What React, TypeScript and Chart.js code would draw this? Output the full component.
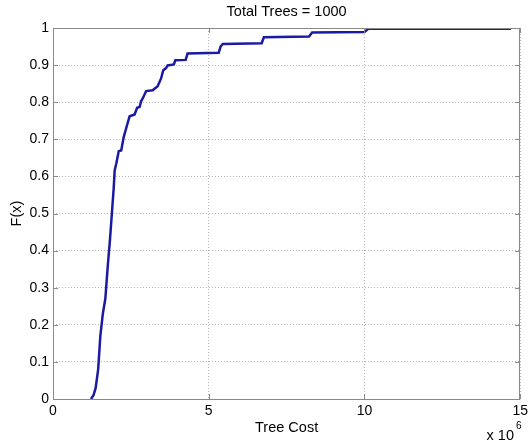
import React, { useEffect, useRef } from "react";
import { Chart, registerables } from "chart.js";

Chart.register(...registerables);

const chartTitle = "Total Trees = 1000";
const xAxisLabel = "Tree Cost";
const yAxisLabel = "F(x)";

// Tree cost in units of 10^6
const costValues = [
  1.22, 1.3, 1.37, 1.45, 1.52, 1.6, 1.68, 1.76, 1.83, 1.89, 1.95, 1.98, 2.03, 2.11, 2.19, 2.27,
  2.39, 2.46, 2.62, 2.7, 2.78, 2.83, 2.88, 2.99, 3.2, 3.36, 3.47, 3.54, 3.63, 3.68, 3.88, 3.93,
  4.26, 4.32, 5.32, 5.38, 5.45, 6.7, 6.77, 8.22, 8.32, 10.0, 10.12, 14.7,
];
const cdfValues = [
  0, 0.01, 0.03, 0.08, 0.17, 0.23, 0.27, 0.36, 0.43, 0.5, 0.57, 0.616, 0.634, 0.668, 0.67, 0.706,
  0.742, 0.762, 0.767, 0.785, 0.787, 0.803, 0.81, 0.83, 0.832, 0.843, 0.864, 0.886, 0.892, 0.899,
  0.902, 0.913, 0.914, 0.931, 0.933, 0.95, 0.957, 0.959, 0.975, 0.977, 0.988, 0.989, 0.998, 0.998,
];

const FONT = "'Liberation Sans', Arial, sans-serif";

const decorPlugin = {
  id: "decor",
  afterDraw(chart: any) {
    const { ctx, chartArea } = chart;
    const { left, right, top, bottom } = chartArea;
    const xs = chart.scales.x;
    const ys = chart.scales.y;
    ctx.save();
    ctx.strokeStyle = "#8a8a8a";
    ctx.lineWidth = 1;
    ctx.setLineDash([]);
    ctx.strokeRect(Math.round(left) + 0.5, Math.round(top) + 0.5, Math.round(right - left) - 1, Math.round(bottom - top));
    ctx.beginPath();
    xs.ticks.forEach((t: any) => {
      const px = Math.round(xs.getPixelForValue(t.value)) + 0.5;
      ctx.moveTo(px, bottom);
      ctx.lineTo(px, bottom - 5);
      ctx.moveTo(px, top);
      ctx.lineTo(px, top + 5);
    });
    ys.ticks.forEach((t: any) => {
      const py = Math.round(ys.getPixelForValue(t.value)) + 0.5;
      ctx.moveTo(left, py);
      ctx.lineTo(left + 5, py);
      ctx.moveTo(right, py);
      ctx.lineTo(right - 5, py);
    });
    ctx.stroke();
    ctx.fillStyle = "#000";
    ctx.font = `14.5px ${FONT}`;
    ctx.textAlign = "center";
    ctx.textBaseline = "middle";
    const cx = (left + right) / 2;
    ctx.fillText(chartTitle, cx, 12);
    ctx.fillText(xAxisLabel, cx, 428);
    ctx.save();
    ctx.translate(17, (top + bottom) / 2);
    ctx.rotate(-Math.PI / 2);
    ctx.fillText(yAxisLabel, 0, 0);
    ctx.restore();
    ctx.textAlign = "right";
    ctx.fillText("x 10", 514, 436);
    ctx.textAlign = "left";
    ctx.font = `10px ${FONT}`;
    ctx.fillText("6", 516, 426);
    ctx.restore();
  },
};

export default function App() {
  const ref = useRef<HTMLCanvasElement>(null);
  useEffect(() => {
    document.body.style.margin = "0";
    const canvas = ref.current!;
    const chart = new Chart(canvas, {
      type: "line",
      data: {
        datasets: [
          {
            data: costValues.map((x, i) => ({ x, y: cdfValues[i] })),
            borderColor: "#1a1aa2",
            borderWidth: 2.5,
            pointRadius: 0,
            tension: 0,
            fill: false,
          },
        ],
      },
      options: {
        animation: false,
        responsive: false,
        maintainAspectRatio: false,
        layout: { padding: { top: 28, right: 7, left: 0, bottom: 0 } },
        plugins: { legend: { display: false }, tooltip: { enabled: false }, title: { display: false } },
        scales: {
          x: {
            type: "linear",
            min: 0,
            max: 15,
            ticks: { stepSize: 5, color: "#000", font: { size: 14, family: FONT }, padding: 4, maxRotation: 0 },
            grid: { color: "#b4b4b4", lineWidth: 1, drawTicks: false },
            border: { display: false, dash: [1, 2] },
            afterFit: (s: any) => {
              s.height = 43;
            },
          },
          y: {
            min: 0,
            max: 1,
            ticks: {
              stepSize: 0.1,
              color: "#000",
              font: { size: 14, family: FONT },
              padding: 4,
              callback: (v: any) => String(Math.round(Number(v) * 10) / 10),
            },
            grid: { color: "#b4b4b4", lineWidth: 1, drawTicks: false },
            border: { display: false, dash: [1, 2] },
            afterFit: (s: any) => {
              s.width = 53;
            },
          },
        },
      },
      plugins: [decorPlugin],
    });
    return () => chart.destroy();
  }, []);
  return <canvas ref={ref} width={532} height={442} style={{ display: "block" }} />;
}
